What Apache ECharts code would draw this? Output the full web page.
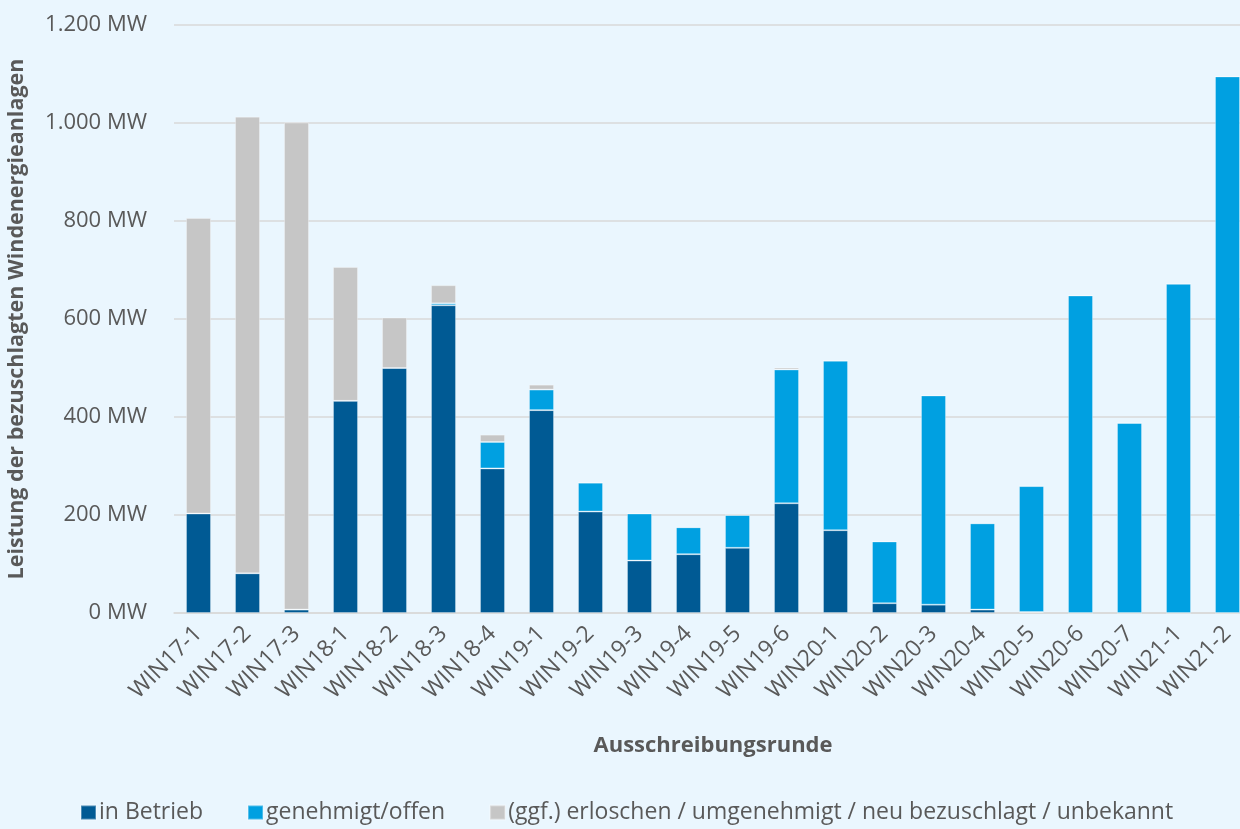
<!DOCTYPE html>
<html>
<head>
<meta charset="utf-8">
<style>
	html, body { margin: 0; padding: 0; background: #eaf6fe; }
	#charts { width: 1240px; height: 829px; }
</style>
<script src="https://cdn.jsdelivr.net/npm/echarts@6/dist/echarts.min.js"></script>
</head>
<body>
<div id="charts"></div>
<script>
const rounds = [
	'WIN17-1', 'WIN17-2', 'WIN17-3', 'WIN18-1', 'WIN18-2', 'WIN18-3', 'WIN18-4',
	'WIN19-1', 'WIN19-2', 'WIN19-3', 'WIN19-4', 'WIN19-5', 'WIN19-6',
	'WIN20-1', 'WIN20-2', 'WIN20-3', 'WIN20-4', 'WIN20-5', 'WIN20-6', 'WIN20-7',
	'WIN21-1', 'WIN21-2'
]
// MW per round
const inBetrieb = [203, 81, 7, 433, 500, 628, 295, 414, 207, 107, 120, 133, 224, 169, 20, 17, 7, 2, 0, 0, 0, 0]
const genehmigt = [0, 0, 0, 0, 0, 4, 54, 42, 59, 96, 55, 67, 273, 346, 126, 427, 176, 257, 648, 388, 672, 1095]
const erloschen = [603, 932, 994, 273, 103, 37, 15, 10, 0, 0, 0, 0, 4, 0, 0, 0, 0, 0, 0, 0, 0, 0]
const yTicks = [0, 200, 400, 600, 800, 1000, 1200]

const names = [
	'in Betrieb',
	'genehmigt/offen',
	'(ggf.) erloschen / umgenehmigt / neu bezuschlagt / unbekannt'
]
const colors = ['#005a94', '#00a0e1', '#c6c6c6']
const font = '"Open Sans", "Noto Sans", sans-serif'
const textColor = '#595959'

const fmtMW = v => String(v).replace(/\B(?=(\d{3})+(?!\d))/g, '.') + ' MW'

const chart = echarts.init(document.getElementById('charts'))

const makeSeries = (name, data, color) => ({
	name,
	type: 'bar',
	stack: 'total',
	data,
	barWidth: 25,
	itemStyle: {
		color,
		borderColor: 'rgba(255,255,255,0.3)',
		borderWidth: 1
	},
	animation: false
})

chart.setOption({
	backgroundColor: '#eaf6fe',
	textStyle: { fontFamily: font },
	grid: {
		left: 174,
		right: -12,
		top: 25,
		bottom: 216,
		outerBoundsMode: 'none',
		containLabel: false
	},
	legend: {
		top: 801,
		left: 80,
		padding: 0,
		itemWidth: 15,
		itemHeight: 14,
		itemGap: 44,
		icon: 'rect',
		textStyle: { color: textColor, fontSize: 23, fontFamily: font, padding: [0, 0, 0, -2] },
		data: names
	},
	xAxis: {
		type: 'category',
		data: rounds,
		name: 'Ausschreibungsrunde',
		nameLocation: 'middle',
		nameGap: 122,
		nameTextStyle: { color: textColor, fontSize: 22, fontWeight: 'bold', fontFamily: font },
		axisLine: { lineStyle: { color: '#d9d9d9', width: 1.5 } },
		axisTick: { show: false },
		axisLabel: {
			rotate: 45,
			interval: 0,
			color: textColor,
			fontSize: 23,
			fontFamily: font,
			margin: 17
		}
	},
	yAxis: {
		type: 'value',
		min: yTicks[0],
		max: yTicks[yTicks.length - 1],
		interval: yTicks[1] - yTicks[0],
		name: 'Leistung der bezuschlagten Windenergieanlagen',
		nameLocation: 'middle',
		nameGap: 146,
		nameTextStyle: { color: textColor, fontSize: 21.5, fontWeight: 'bold', fontFamily: font },
		axisLine: { show: false },
		axisTick: { show: false },
		splitLine: { lineStyle: { color: '#d9d9d9', width: 1.5 } },
		axisLabel: {
			color: textColor,
			fontSize: 22,
			fontFamily: font,
			margin: 27,
			formatter: fmtMW
		}
	},
	series: [
		makeSeries(names[0], inBetrieb, colors[0]),
		makeSeries(names[1], genehmigt, colors[1]),
		makeSeries(names[2], erloschen, colors[2])
	]
})
</script>
</body>
</html>
